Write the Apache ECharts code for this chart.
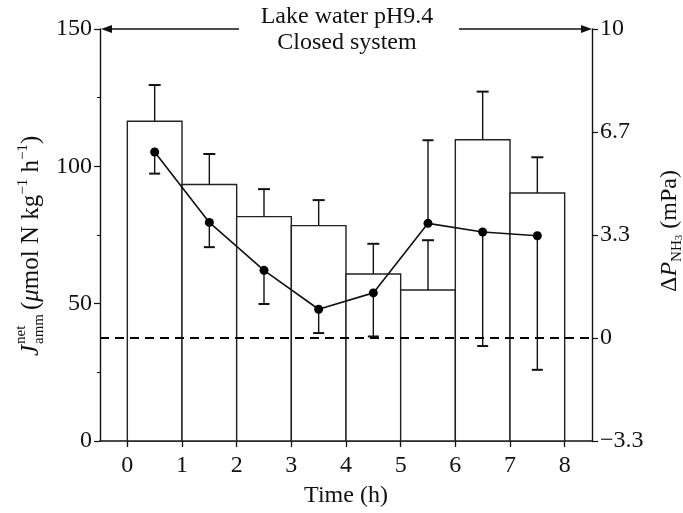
<!DOCTYPE html>
<html><head><meta charset="utf-8">
<script src="https://cdn.jsdelivr.net/npm/echarts@6/dist/echarts.min.js"></script>
<style>html,body{margin:0;padding:0;background:#fff}#c{width:683px;height:513px}</style>
</head><body><div id="c"></div>
<script>
// ---- data ----
const barStarts = [0, 1, 2, 3, 4, 5, 6, 7];
const barEnds = [1, 2, 3, 4, 5, 6, 7, 8];
const fluxValues = [116.4, 93.4, 81.7, 78.4, 60.8, 55.0, 109.7, 90.3];
const fluxErrors = [13.2, 11.1, 10.0, 9.3, 11.0, 18.1, 17.5, 13.0];
const pointTimes = [0.5, 1.5, 2.5, 3.5, 4.5, 5.5, 6.5, 7.5];
const pnh3Values = [6.02, 3.74, 2.19, 0.93, 1.46, 3.71, 3.43, 3.31];
const pnh3ErrLow = [0.70, 0.80, 1.09, 0.77, 1.41, 0, 3.69, 4.34];
const pnh3ErrHigh = [0, 0, 0, 0, 0, 2.69, 0, 0];
const xTicks = [0, 1, 2, 3, 4, 5, 6, 7, 8];
const rightTicks = [-10 / 3, 0, 10 / 3, 20 / 3, 10];
const rightTickLabels = ['−3.3', '0', '3.3', '6.7', '10'];

const FONT = '"Liberation Serif", "DejaVu Serif", serif';
const chart = echarts.init(document.getElementById('c'), null, { renderer: 'canvas' });

const barData = barStarts.map((s, i) => [s, barEnds[i], fluxValues[i]]);
const barErrData = barStarts.map((s, i) => [(s + barEnds[i]) / 2, fluxValues[i], fluxErrors[i]]);
const ptErrData = pointTimes.map((t, i) => [t, pnh3Values[i], pnh3ErrLow[i], pnh3ErrHigh[i]]);
const lineData = pointTimes.map((t, i) => [t, pnh3Values[i]]);

function capLine(x, y, half) {
  return { type: 'line', shape: { x1: x - half, y1: y, x2: x + half, y2: y }, style: { stroke: '#111', lineWidth: 2 } };
}

const option = {
  animation: false,
  backgroundColor: '#fff',
  grid: { left: 100, right: 91, top: 29, bottom: 71 },
  xAxis: {
    type: 'value', min: -0.5, max: 8.5,
    axisLine: { show: true, onZero: false, lineStyle: { color: '#111', width: 1.6 } },
    axisTick: { show: true, customValues: xTicks, length: 6, inside: false, lineStyle: { color: '#111', width: 1.3 } },
    axisLabel: { customValues: xTicks, margin: 13, fontFamily: FONT, fontSize: 24, color: '#111' },
    splitLine: { show: false },
    name: 'Time (h)', nameLocation: 'middle', nameGap: 43,
    nameTextStyle: { fontFamily: FONT, fontSize: 24, color: '#111' }
  },
  yAxis: [
    {
      type: 'value', min: 0, max: 150, interval: 50, position: 'left',
      axisLine: { show: true, onZero: false, lineStyle: { color: '#111', width: 1.4 } },
      axisTick: { show: true, length: 6, lineStyle: { color: '#111', width: 1.2 } },
      minorTick: { show: true, splitNumber: 2, length: 3, lineStyle: { color: '#111', width: 1 } },
      axisLabel: { margin: 8, fontFamily: FONT, fontSize: 24, color: '#111' },
      splitLine: { show: false }
    },
    {
      type: 'value', min: -10 / 3, max: 10, interval: 10 / 3, position: 'right',
      axisLine: { show: true, onZero: false, lineStyle: { color: '#111', width: 1.4 } },
      axisTick: { show: true, length: 6, lineStyle: { color: '#111', width: 1.2 } },
      axisLabel: {
        margin: 8, fontFamily: FONT, fontSize: 24, color: '#111',
        formatter: v => { const k = rightTicks.findIndex(t => Math.abs(t - v) < 1e-6); return k >= 0 ? rightTickLabels[k] : ''; }
      },
      splitLine: { show: false }
    }
  ],
  series: [
    {
      type: 'custom', name: 'flux', xAxisIndex: 0, yAxisIndex: 0, z: 2,
      data: barData, encode: { x: [0, 1], y: 2 },
      renderItem: (params, api) => {
        const p0 = api.coord([api.value(0), api.value(2)]);
        const p1 = api.coord([api.value(1), 0]);
        return { type: 'rect', shape: { x: p0[0], y: p0[1], width: p1[0] - p0[0], height: p1[1] - p0[1] },
          style: { fill: '#fff', stroke: '#222', lineWidth: 1.4 } };
      }
    },
    {
      type: 'custom', name: 'fluxErr', xAxisIndex: 0, yAxisIndex: 0, z: 3,
      data: barErrData, encode: { x: 0, y: 1 },
      renderItem: (params, api) => {
        const x = api.value(0), v = api.value(1), e = api.value(2);
        const a = api.coord([x, v]), b = api.coord([x, v + e]);
        return { type: 'group', children: [
          { type: 'line', shape: { x1: a[0], y1: a[1], x2: b[0], y2: b[1] }, style: { stroke: '#111', lineWidth: 1.4 } },
          capLine(b[0], b[1], 6)
        ] };
      }
    },
    {
      type: 'custom', name: 'pErr', xAxisIndex: 0, yAxisIndex: 1, z: 4,
      data: ptErrData, encode: { x: 0, y: 1 },
      renderItem: (params, api) => {
        const x = api.value(0), v = api.value(1), lo = api.value(2), hi = api.value(3);
        const a = api.coord([x, v - lo]), b = api.coord([x, v + hi]);
        const ch = [{ type: 'line', shape: { x1: a[0], y1: a[1], x2: b[0], y2: b[1] }, style: { stroke: '#111', lineWidth: 1.4 } }];
        if (lo > 0) ch.push(capLine(a[0], a[1], 5.5));
        if (hi > 0) ch.push(capLine(b[0], b[1], 5.5));
        return { type: 'group', children: ch };
      }
    },
    {
      type: 'line', name: 'pnh3', xAxisIndex: 0, yAxisIndex: 1, z: 5,
      data: lineData, symbol: 'circle', symbolSize: 9, showSymbol: true,
      itemStyle: { color: '#000' }, lineStyle: { color: '#111', width: 1.6 },
      markLine: {
        silent: true, symbol: ['none', 'none'], label: { show: false },
        lineStyle: { color: '#000', type: [9, 6], width: 2 },
        data: [{ yAxis: 0 }]
      }
    }
  ],
  graphic: [
    { type: 'text', style: { text: 'Lake water pH9.4', x: 347, y: 17, align: 'center', verticalAlign: 'middle', font: '24px ' + FONT, fill: '#111' } },
    { type: 'text', style: { text: 'Closed system', x: 347, y: 43, align: 'center', verticalAlign: 'middle', font: '24px ' + FONT, fill: '#111' } },
    { type: 'line', shape: { x1: 106, y1: 29, x2: 239, y2: 29 }, style: { stroke: '#111', lineWidth: 1.5 } },
    { type: 'polygon', shape: { points: [[101, 29], [112, 25], [112, 33]] }, style: { fill: '#111' } },
    { type: 'line', shape: { x1: 459, y1: 29, x2: 586, y2: 29 }, style: { stroke: '#111', lineWidth: 1.5 } },
    { type: 'polygon', shape: { points: [[592, 29], [581, 25], [581, 33]] }, style: { fill: '#111' } },
    {
      type: 'group', x: 31, y: 356, rotation: Math.PI / 2,
      children: [
        { type: 'text', style: { text: 'J', x: 0, y: 0, align: 'left', verticalAlign: 'middle', font: 'italic 25px ' + FONT, fill: '#111' } },
        { type: 'text', style: { text: 'net', x: 12, y: -10, align: 'left', verticalAlign: 'middle', font: '15px ' + FONT, fill: '#111' } },
        { type: 'text', style: { text: 'amm', x: 12, y: 8, align: 'left', verticalAlign: 'middle', font: '15px ' + FONT, fill: '#111' } },
        { type: 'text', style: {
            x: 46, y: 0, align: 'left', verticalAlign: 'middle',
            text: '{n|(}{mu|μ}{n|mol N kg}{sup|−1}{n| h}{sup|−1}{n|)}',
            rich: {
              n: { fontFamily: FONT, fontSize: 25, lineHeight: 30, verticalAlign: 'middle', fill: '#111', color: '#111' },
              mu: { fontFamily: FONT, fontSize: 25, fontStyle: 'italic', lineHeight: 30, verticalAlign: 'middle', fill: '#111', color: '#111' },
              sup: { fontFamily: FONT, fontSize: 15, lineHeight: 30, verticalAlign: 'top', fill: '#111', color: '#111' }
            }
          } }
      ]
    },
    {
      type: 'group', x: 670, y: 292, rotation: Math.PI / 2,
      children: [
        { type: 'text', style: {
            x: 0, y: 0, align: 'left', verticalAlign: 'middle',
            text: '{n|Δ}{P|P}{sub|NH}{sub3|3}{n| (mPa)}',
            rich: {
              n: { fontFamily: FONT, fontSize: 24, lineHeight: 30, verticalAlign: 'middle', fill: '#111', color: '#111' },
              P: { fontFamily: FONT, fontSize: 24, fontStyle: 'italic', lineHeight: 30, verticalAlign: 'middle', fill: '#111', color: '#111' },
              sub: { fontFamily: FONT, fontSize: 15, lineHeight: 30, verticalAlign: 'bottom', fill: '#111', color: '#111' },
              sub3: { fontFamily: FONT, fontSize: 11, lineHeight: 28, verticalAlign: 'bottom', fill: '#111', color: '#111' }
            }
          } }
      ]
    }
  ]
};
chart.setOption(option);
</script>
</body></html>
